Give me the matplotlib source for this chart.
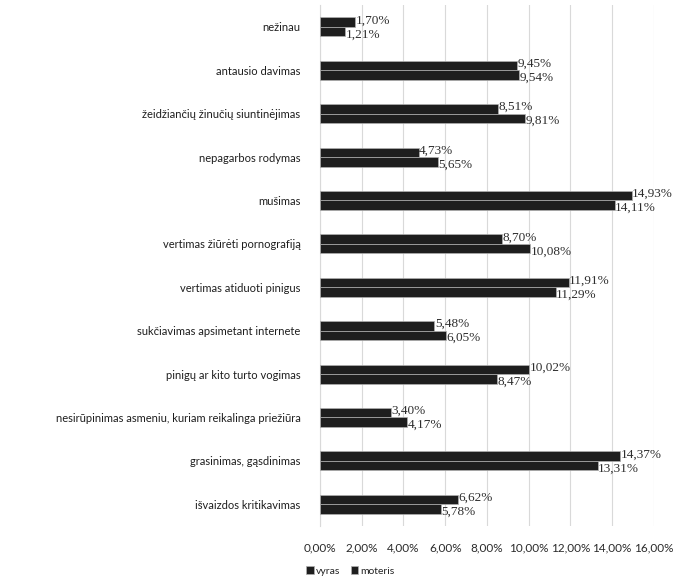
import matplotlib.pyplot as plt
import numpy as np
from matplotlib.ticker import FuncFormatter

# categories top to bottom, as in the picture
categories = ['nežinau', 'antausio davimas', 'žeidžiančių žinučių siuntinėjimas',
              'nepagarbos rodymas', 'mušimas', 'vertimas žiūrėti pornografiją',
              'vertimas atiduoti pinigus', 'sukčiavimas apsimetant internete',
              'pinigų ar kito turto vogimas',
              'nesirūpinimas asmeniu, kuriam reikalinga priežiūra',
              'grasinimas, gąsdinimas', 'išvaizdos kritikavimas']
vyras = [1.70, 9.45, 8.51, 4.73, 14.93, 8.70, 11.91, 5.48, 10.02, 3.40, 14.37, 6.62]
moteris = [1.21, 9.54, 9.81, 5.65, 14.11, 10.08, 11.29, 6.05, 8.47, 4.17, 13.31, 5.78]
xticks = [0, 2, 4, 6, 8, 10, 12, 14, 16]


def pct(v, pos=None):
    return ('%.2f%%' % v).replace('.', ',')


fig = plt.figure(figsize=(6.83, 5.78), dpi=100)
ax = fig.add_axes([0.4685, 0.09, 0.489, 0.901])

y = np.arange(len(categories))
h = 0.22
bar_col = '#1e1e1e'
ax.barh(y - h / 2, vyras, height=h, color=bar_col, edgecolor='#b0b0b0', linewidth=0.5, label='vyras', zorder=3)
ax.barh(y + h / 2, moteris, height=h, color=bar_col, edgecolor='#b0b0b0', linewidth=0.5, label='moteris', zorder=3)

# value labels at the bar ends (Excel style, they overlap a bit)
for i in range(len(categories)):
    ax.text(vyras[i] + 0.02, y[i] - h / 2 - 0.04, pct(vyras[i]), va='center', ha='left',
            fontsize=9.5, family='Liberation Serif', color='#2e2e2e', zorder=4)
    ax.text(moteris[i] + 0.02, y[i] + h / 2 + 0.06, pct(moteris[i]), va='center', ha='left',
            fontsize=9.5, family='Liberation Serif', color='#2e2e2e', zorder=4)

ax.set_ylim(len(categories) - 0.5, -0.5)
ax.set_xlim(0, 16)
ax.set_yticks(y)
ax.set_yticklabels(categories, fontsize=8, family='Lato', color='#1e1e1e')
ax.set_xticks(xticks)
ax.xaxis.set_major_formatter(FuncFormatter(pct))
for lab in ax.get_xticklabels():
    lab.set_family('Lato')
ax.tick_params(axis='x', labelsize=8.5, colors='#2a2a2a', length=0, pad=12)
ax.tick_params(axis='y', length=0, pad=14)
ax.grid(axis='x', color='#d9d9d9', linewidth=0.8, zorder=0)
for s in ['top', 'right', 'bottom']:
    ax.spines[s].set_visible(False)
ax.spines['left'].set_color('#d9d9d9')

fig.legend(loc='lower left', bbox_to_anchor=(0.435, -0.012), ncol=2, frameon=False,
           prop={'family': 'Lato', 'size': 7.5}, handlelength=0.7, handleheight=0.7,
           handletextpad=0.2, columnspacing=1.0, labelcolor='#222222')

fig.savefig('out.png', dpi=100)
